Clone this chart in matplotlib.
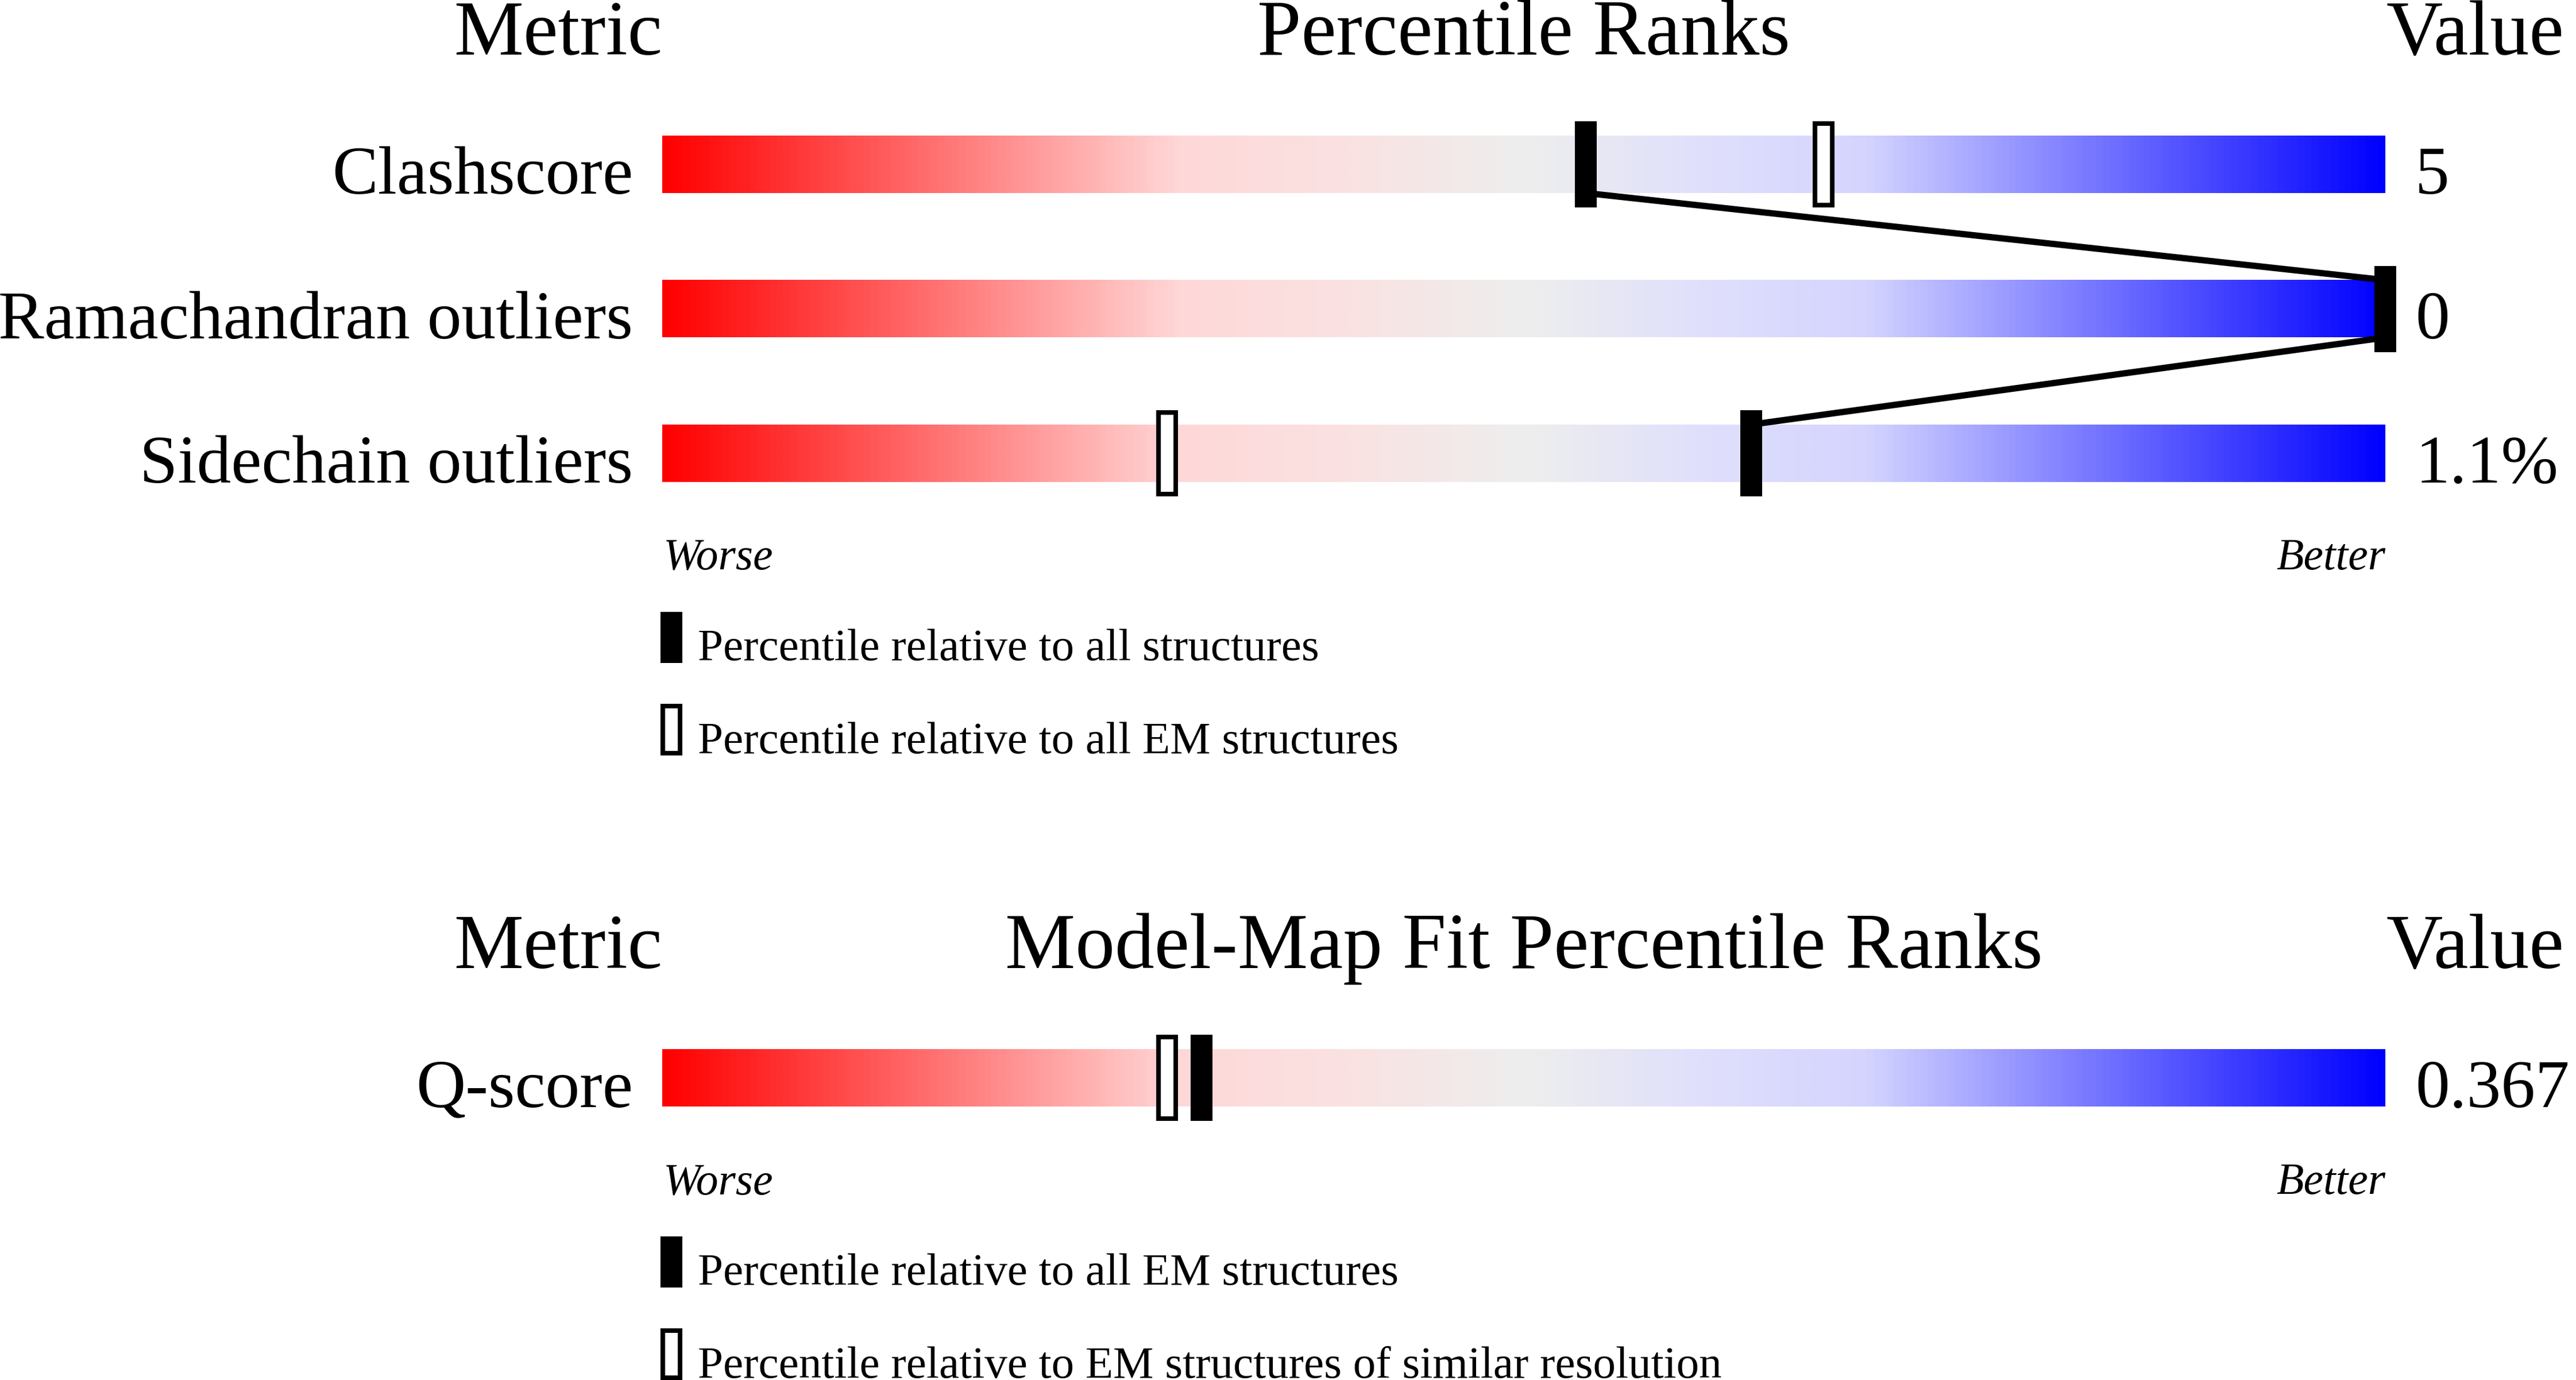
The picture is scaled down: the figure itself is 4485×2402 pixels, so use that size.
import numpy as np
import matplotlib
matplotlib.use("Agg")
import matplotlib.pyplot as plt
from matplotlib.colors import LinearSegmentedColormap
from matplotlib.patches import Rectangle

# data
metrics = ["Clashscore", "Ramachandran outliers", "Sidechain outliers"]
metric_values = ["5", "0", "1.1%"]
pct_all = [53.6, 100, 63.2]      # percentile vs all structures (filled)
pct_em = [67.4, 100, 29.3]       # percentile vs all EM structures (open)
legend1 = ["Percentile relative to all structures",
           "Percentile relative to all EM structures"]

fit_metrics = ["Q-score"]
fit_values = ["0.367"]
fit_pct_em = [31.3]              # filled
fit_pct_res = [29.3]             # open
legend2 = ["Percentile relative to all EM structures",
           "Percentile relative to EM structures of similar resolution"]

headers1 = ["Metric", "Percentile Ranks", "Value"]
headers2 = ["Metric", "Model-Map Fit Percentile Ranks", "Value"]

# layout (pixels, y down)
W, H = 4485, 2402
bar_x0, bar_x1 = 1153, 4153
bar_h = 100
row_pitch = 251.5
sec1_top = 236
sec2_top = 1826

font = "Liberation Serif"
px = 72 / 100.0  # pt per pixel at dpi 100

cmap = LinearSegmentedColormap.from_list("slider", [
    (0.0, (1.0, 0.0, 0.0)),
    (0.3, (1.0, 216/255, 216/255)),
    (0.4, (250/255, 226/255, 226/255)),
    (0.5, (238/255, 238/255, 238/255)),
    (0.6, (224/255, 224/255, 252/255)),
    (0.7, (212/255, 212/255, 1.0)),
    (1.0, (0.0, 0.0, 1.0)),
])
grad = np.linspace(0, 1, 1024)[None, :]

fig = plt.figure(figsize=(W / 100, H / 100), dpi=100)
ax = fig.add_axes([0, 0, 1, 1])
ax.set_xlim(0, W)
ax.set_ylim(H, 0)
ax.axis("off")


def pct_x(p):
    return bar_x0 + p / 100.0 * (bar_x1 - bar_x0)


def draw_section(top, headers, names, vals, filled, opened, legend, connect):
    # headers
    hy = top - 141
    ax.text(bar_x0, hy, headers[0], ha="right", va="baseline", fontsize=98, family=font)
    ax.text((bar_x0 + bar_x1) / 2, hy, headers[1], ha="center", va="baseline", fontsize=99, family=font)
    ax.text(bar_x1 + 2, hy, headers[2], ha="left", va="baseline", fontsize=98, family=font)

    tops = [top + i * row_pitch for i in range(len(names))]
    for i, name in enumerate(names):
        t = tops[i]
        ax.imshow(grad, cmap=cmap, aspect="auto", extent=[bar_x0, bar_x1, t + bar_h, t],
                  interpolation="bilinear", zorder=1)
        ax.text(bar_x0 - 51, t + bar_h + 1, name, ha="right", va="baseline", fontsize=86, family=font)
        ax.text(bar_x1 + 52, t + bar_h + 1, vals[i], ha="left", va="baseline", fontsize=86, family=font)
        xo = pct_x(opened[i])
        ax.add_patch(Rectangle((xo - 15, t - 21), 30, bar_h + 42, facecolor="white",
                               edgecolor="black", linewidth=8 * px, zorder=3))
        xf = pct_x(filled[i])
        ax.add_patch(Rectangle((xf - 19, t - 25), 38, bar_h + 50, facecolor="black",
                               edgecolor="none", zorder=4))

    if connect:
        for i in range(len(names) - 1):
            ax.plot([pct_x(filled[i]), pct_x(filled[i + 1])],
                    [tops[i] + bar_h, tops[i + 1]],
                    color="black", linewidth=11 * px, solid_capstyle="butt", zorder=2)

    bottom = tops[-1] + bar_h
    ax.text(bar_x0 + 2, bottom + 152, "Worse", ha="left", va="baseline", fontsize=56,
            style="italic", family=font)
    ax.text(bar_x1, bottom + 152, "Better", ha="right", va="baseline", fontsize=56,
            style="italic", family=font)

    # legend
    ax.add_patch(Rectangle((bar_x0 - 3, bottom + 226), 38, 89, facecolor="black", edgecolor="none"))
    ax.text(bar_x0 + 62, bottom + 310, legend[0], ha="left", va="baseline", fontsize=57, family=font)
    ax.add_patch(Rectangle((bar_x0 + 1, bottom + 390), 30, 82, facecolor="white",
                           edgecolor="black", linewidth=8 * px))
    ax.text(bar_x0 + 62, bottom + 472, legend[1], ha="left", va="baseline", fontsize=57, family=font)


draw_section(sec1_top, headers1, metrics, metric_values, pct_all, pct_em, legend1, True)
draw_section(sec2_top, headers2, fit_metrics, fit_values, fit_pct_em, fit_pct_res, legend2, False)

fig.savefig("out.png", dpi=100, facecolor="white")
